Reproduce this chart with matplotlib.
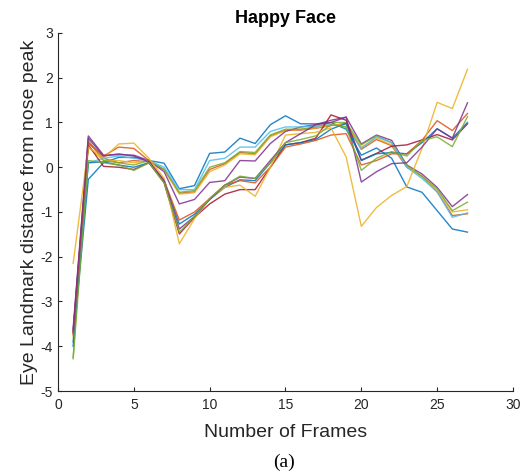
import numpy as np
import matplotlib
matplotlib.use("Agg")
import matplotlib.pyplot as plt

plt.rcParams['font.family'] = ['Liberation Sans', 'DejaVu Sans']
plt.rcParams['axes.unicode_minus'] = False

frames = list(range(1, 28))

# eye landmark distances, one list per landmark
lm01 = [-3.9, -0.27, 0.10, 0.22, 0.22, 0.15, 0.09, -0.48, -0.41, 0.31, 0.34, 0.65, 0.53, 0.95,
        1.15, 0.97, 0.97, 1.00, 0.85, 0.27, 0.43, 0.20, -0.44, -0.56, -0.97, -1.38, -1.45]
lm02 = [-3.7, 0.55, 0.20, 0.10, 0.15, 0.12, -0.05, -0.58, -0.55, -0.05, 0.08, 0.33, 0.30, 0.70,
        0.83, 0.83, 0.87, 0.93, 0.98, 0.40, 0.62, 0.48, 0.00, -0.20, -0.55, -1.08, -1.04]
lm03 = [-3.8, 0.45, 0.15, 0.15, 0.10, 0.15, -0.05, -0.60, -0.57, -0.10, 0.05, 0.30, 0.28, 0.68,
        0.82, 0.85, 0.88, 0.95, 0.95, 0.45, 0.65, 0.50, 0.02, -0.22, -0.52, -1.00, -0.95]
lm04 = [-3.6, 0.70, 0.27, 0.28, 0.27, 0.15, -0.10, -0.82, -0.72, -0.34, -0.30, 0.15, 0.14, 0.53,
        0.80, 0.90, 0.95, 1.05, 1.12, 0.52, 0.72, 0.60, 0.05, -0.15, -0.45, -0.88, -0.61]
lm05 = [-4.25, 0.60, 0.15, 0.10, 0.05, 0.15, -0.05, -0.56, -0.52, 0.00, 0.10, 0.35, 0.33, 0.72,
        0.85, 0.85, 0.90, 1.00, 1.00, 0.50, 0.70, 0.55, 0.05, -0.20, -0.48, -0.97, -0.78]
lm06 = [-3.7, 0.10, 0.20, 0.25, 0.20, 0.15, 0.00, -0.50, -0.50, 0.15, 0.20, 0.45, 0.45, 0.80,
        0.90, 0.90, 0.92, 0.95, 0.90, 0.42, 0.68, 0.55, 0.00, -0.25, -0.55, -1.12, -1.02]
lm07 = [-3.7, 0.50, 0.02, 0.00, -0.05, 0.10, -0.35, -1.49, -1.12, -0.82, -0.60, -0.50, -0.50, 0.00,
        0.50, 0.55, 0.65, 1.17, 1.05, 0.16, 0.31, 0.47, 0.50, 0.61, 0.73, 0.61, 0.97]
lm08 = [-4.0, 0.10, 0.12, 0.05, 0.00, 0.10, -0.30, -1.27, -1.05, -0.72, -0.45, -0.28, -0.30, 0.10,
        0.50, 0.55, 0.62, 0.85, 0.98, 0.15, 0.30, 0.33, 0.30, 0.55, 0.86, 0.65, 1.00]
lm09 = [-3.75, 0.55, 0.25, 0.45, 0.42, 0.15, -0.30, -1.18, -1.00, -0.70, -0.40, -0.30, -0.35, 0.00,
        0.45, 0.52, 0.60, 0.72, 0.75, 0.05, 0.15, 0.30, 0.30, 0.60, 1.04, 0.82, 1.20]
lm10 = [-2.15, 0.45, 0.20, 0.52, 0.54, 0.20, -0.25, -1.71, -1.15, -0.70, -0.45, -0.40, -0.65, 0.00,
        0.72, 0.75, 0.78, 0.88, 0.23, -1.32, -0.90, -0.63, -0.43, 0.42, 1.45, 1.31, 2.19]
lm11 = [-3.65, 0.65, 0.25, 0.30, 0.25, 0.12, -0.30, -1.38, -1.10, -0.72, -0.40, -0.22, -0.25, 0.15,
        0.55, 0.75, 0.95, 1.00, 1.12, -0.33, -0.10, 0.08, 0.10, 0.45, 0.86, 0.65, 1.44]
lm12 = [-4.28, 0.15, 0.10, 0.05, -0.07, 0.10, -0.35, -1.45, -1.10, -0.70, -0.40, -0.20, -0.25, 0.10,
        0.55, 0.62, 0.70, 0.95, 0.90, -0.07, 0.20, 0.35, 0.25, 0.60, 0.68, 0.46, 1.13]

landmarks = [lm01, lm02, lm03, lm04, lm05, lm06, lm07, lm08, lm09, lm10, lm11, lm12]

# MATLAB default colour order
cores = ['#0072BD', '#D95319', '#EDB120', '#7E2F8E', '#77AC30', '#4DBEEE', '#A2142F']

fig = plt.figure(figsize=(5.30, 4.74), dpi=100)
ax = fig.add_axes([0.1094, 0.1751, 0.8585, 0.7553])

for i, serie in enumerate(landmarks):
    ax.plot(frames, serie, color=cores[i % len(cores)], linewidth=1.0, alpha=0.85)

ax.set_xlim(0, 30)
ax.set_ylim(-5, 3)
ax.set_xticks(np.arange(0, 31, 5))
ax.set_yticks(np.arange(-5, 4, 1))

for lado in ['top', 'right']:
    ax.spines[lado].set_visible(False)
for lado in ['left', 'bottom']:
    ax.spines[lado].set_color('#262626')
    ax.spines[lado].set_linewidth(0.8)
ax.tick_params(direction='in', length=3, width=0.8, colors='#262626', labelsize=10)
ax.tick_params(axis='x', pad=5)

ax.set_title("Happy Face", fontsize=13, fontweight='bold', pad=7)
ax.set_xlabel("Number of Frames", fontsize=14, color='#262626', labelpad=9)
ax.set_ylabel("Eye Landmark distance from nose peak", fontsize=14, color='#262626', labelpad=2)

fig.text(0.535, 0.014, "(a)", ha='center', va='baseline', fontsize=14,
         family=['Liberation Serif', 'DejaVu Serif'])

fig.savefig("out.png", dpi=100)
